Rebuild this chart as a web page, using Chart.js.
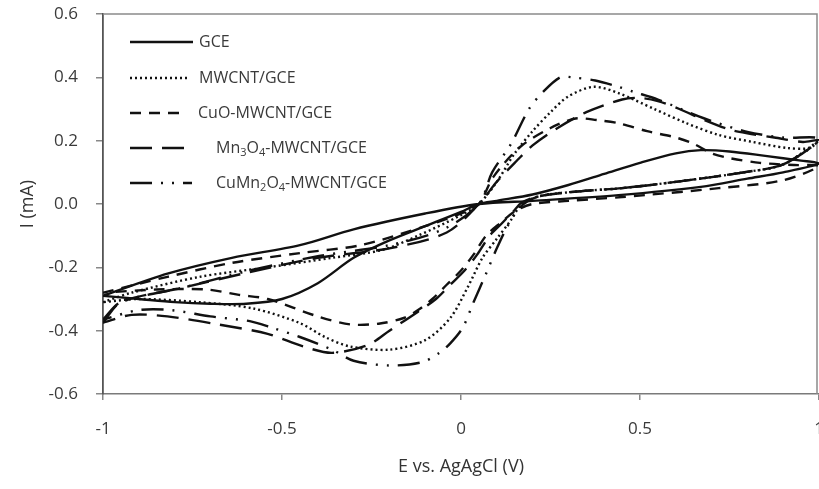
<!DOCTYPE html>
<html>
<head>
<meta charset="utf-8">
<script src="https://cdn.jsdelivr.net/npm/chart.js@4.4.1/dist/chart.umd.min.js"></script>
<style>
  html, body { margin: 0; padding: 0; background: #fff; overflow: hidden; }
  #wrap { position: relative; width: 840px; height: 489px; }
</style>
</head>
<body>
<div id="wrap"><canvas id="c"></canvas></div>
<script>
// ---- data ----
const seriesLabels = ['GCE', 'MWCNT/GCE', 'CuO-MWCNT/GCE', 'Mn₃O₄-MWCNT/GCE', 'CuMn₂O₄-MWCNT/GCE'];

const gceE = [-1, -0.9, -0.8, -0.7, -0.6, -0.5, -0.4, -0.3, -0.2, -0.1, 0, 0.05, 0.1, 0.2, 0.3, 0.4, 0.5, 0.6, 0.67, 0.75, 0.85, 0.95, 1,
              0.9, 0.8, 0.67, 0.44, 0.2, 0.05, -0.1, -0.3, -0.45, -0.64, -0.82, -1];
const gceI = [-0.29, -0.30, -0.31, -0.315, -0.315, -0.30, -0.25, -0.17, -0.115, -0.07, -0.025, 0, 0.01, 0.03, 0.06, 0.095, 0.13, 0.16, 0.17, 0.166, 0.152, 0.137, 0.128,
              0.10, 0.08, 0.054, 0.028, 0.01, 0.0, -0.03, -0.08, -0.13, -0.17, -0.22, -0.29];

const mwE = [-1, -0.92, -0.73, -0.54, -0.36, -0.22, -0.12, 0, 0.05, 0.1, 0.15, 0.2, 0.25, 0.3, 0.37, 0.44, 0.54, 0.63, 0.72, 0.815, 0.91, 0.975, 1,
             0.9, 0.79, 0.6, 0.45, 0.33, 0.22, 0.17, 0.14, 0.1, 0.06, 0.02, -0.03, -0.1, -0.2, -0.31, -0.38, -0.45, -0.58, -0.73, -0.9, -1];
const mwI = [-0.31, -0.28, -0.23, -0.20, -0.17, -0.145, -0.10, -0.035, 0.0, 0.07, 0.16, 0.23, 0.29, 0.34, 0.37, 0.35, 0.30, 0.255, 0.218, 0.196, 0.177, 0.177, 0.2,
             0.125, 0.10, 0.07, 0.05, 0.04, 0.025, 0.0, -0.05, -0.11, -0.17, -0.26, -0.36, -0.43, -0.46, -0.45, -0.42, -0.376, -0.33, -0.31, -0.30, -0.31];

const cuoE = [-1, -0.82, -0.64, -0.45, -0.28, -0.1, 0, 0.05, 0.09, 0.165, 0.25, 0.32, 0.38, 0.44, 0.52, 0.6, 0.65, 0.7, 0.75, 0.835, 0.93, 1,
              0.9, 0.72, 0.45, 0.3, 0.2, 0.155, 0.11, 0.07, 0.035, 0, -0.04, -0.08, -0.12, -0.16, -0.23, -0.31, -0.4, -0.54, -0.62, -0.71, -0.85, -1];
const cuoI = [-0.28, -0.23, -0.186, -0.155, -0.13, -0.07, -0.03, 0.0, 0.085, 0.18, 0.24, 0.27, 0.265, 0.255, 0.23, 0.21, 0.19, 0.16, 0.145, 0.13, 0.123, 0.12,
              0.075, 0.05, 0.022, 0.01, 0.0, -0.02, -0.06, -0.10, -0.16, -0.21, -0.255, -0.30, -0.335, -0.36, -0.378, -0.38, -0.355, -0.30, -0.287, -0.27, -0.27, -0.28];

const mnE = [-1, -0.95, -0.78, -0.59, -0.4, -0.2, -0.04, 0.05, 0.1, 0.15, 0.2, 0.27, 0.35, 0.45, 0.5, 0.55, 0.61, 0.68, 0.75, 0.8, 0.875, 0.955, 1,
             0.9, 0.79, 0.6, 0.45, 0.33, 0.22, 0.17, 0.145, 0.115, 0.08, 0.045, 0.01, -0.03, -0.07, -0.12, -0.2, -0.26, -0.36, -0.44, -0.54, -0.68, -0.82, -0.92, -1];
const mnI = [-0.375, -0.31, -0.265, -0.215, -0.17, -0.14, -0.09, 0.0, 0.07, 0.13, 0.185, 0.24, 0.29, 0.33, 0.335, 0.325, 0.30, 0.265, 0.235, 0.223, 0.21, 0.196, 0.2,
             0.125, 0.10, 0.07, 0.05, 0.04, 0.025, 0.005, -0.025, -0.06, -0.10, -0.16, -0.21, -0.255, -0.30, -0.34, -0.40, -0.445, -0.47, -0.45, -0.41, -0.38, -0.355, -0.35, -0.375];

const cmE = [-1, -0.95, -0.78, -0.59, -0.4, -0.2, -0.05, 0.05, 0.087, 0.14, 0.19, 0.23, 0.277, 0.31, 0.375, 0.44, 0.48, 0.55, 0.68, 0.8, 0.9, 1,
             0.9, 0.79, 0.6, 0.45, 0.33, 0.22, 0.165, 0.13, 0.1, 0.07, 0.035, 0.005, -0.03, -0.06, -0.11, -0.2, -0.3, -0.36, -0.45, -0.53, -0.59, -0.7, -0.81, -0.9, -1];
const cmI = [-0.365, -0.31, -0.265, -0.21, -0.165, -0.13, -0.08, 0.0, 0.10, 0.19, 0.30, 0.355, 0.40, 0.40, 0.39, 0.37, 0.355, 0.33, 0.27, 0.228, 0.21, 0.205,
             0.125, 0.10, 0.07, 0.05, 0.04, 0.025, -0.01, -0.07, -0.14, -0.22, -0.31, -0.39, -0.44, -0.47, -0.50, -0.51, -0.495, -0.46, -0.42, -0.39, -0.37, -0.355, -0.335, -0.335, -0.365];

const xTickValues = [-1, -0.5, 0, 0.5, 1];
const xTickLabels = ['-1', '-0.5', '0', '0.5', '1'];
const yTickValues = [-0.6, -0.4, -0.2, 0, 0.2, 0.4, 0.6];
const yTickLabels = ['-0.6', '-0.4', '-0.2', '0.0', '0.2', '0.4', '0.6'];
const xTitle = 'E vs. AgAgCl (V)';
const yTitle = 'I (mA)';

// ---- styles ----
const FONT = "'Open Sans', 'Noto Sans', sans-serif";
const styles = [
  { dash: [] },
  { dash: [2, 3] },
  { dash: [11, 8] },
  { dash: [22, 10] },
  { dash: [22, 9, 2, 9, 2, 9] }
];
const pairs = [[gceE, gceI], [mwE, mwI], [cuoE, cuoI], [mnE, mnI], [cmE, cmI]];

const datasets = pairs.map((p, i) => ({
  label: seriesLabels[i],
  data: p[0].map((e, k) => ({ x: e, y: p[1][k] })),
  showLine: true,
  borderColor: '#111',
  backgroundColor: '#111',
  borderWidth: 2.4,
  borderDash: styles[i].dash,
  pointRadius: 0,
  tension: 0.3,
  fill: false
}));

const SUB = { '₀':'0','₁':'1','₂':'2','₃':'3','₄':'4','₅':'5','₆':'6','₇':'7','₈':'8','₉':'9' };
function drawRich(ctx, text, x, y) {
  let cx = x;
  for (const ch of text) {
    if (SUB[ch]) {
      ctx.font = "11px " + FONT;
      ctx.fillText(SUB[ch], cx, y + 5);
      cx += ctx.measureText(SUB[ch]).width;
    } else {
      ctx.font = "16px " + FONT;
      ctx.fillText(ch, cx, y);
      cx += ctx.measureText(ch).width;
    }
  }
}

const legendPlugin = {
  id: 'cvLegend',
  afterDatasetsDraw(chart) {
    const ctx = chart.ctx;
    const a = chart.chartArea;
    const rowY = [42, 78, 113, 148, 183];
    const lineEnd = [193, 190, 184, 186, 192];
    const textX = [199, 199, 198, 216, 216];
    chart.data.datasets.forEach((ds, i) => {
      ctx.save();
      ctx.strokeStyle = ds.borderColor;
      ctx.lineWidth = 2.7;
      ctx.setLineDash(ds.borderDash || []);
      ctx.beginPath();
      ctx.moveTo(a.left + 27, rowY[i]);
      ctx.lineTo(lineEnd[i], rowY[i]);
      ctx.stroke();
      ctx.setLineDash([]);
      ctx.fillStyle = '#3a3a3a';
      ctx.textBaseline = 'middle';
      ctx.textAlign = 'left';
      drawRich(ctx, ds.label, textX[i], rowY[i]);
      ctx.restore();
    });
  }
};

const framePlugin = {
  id: 'frame',
  beforeDatasetsDraw(chart) {
    const ctx = chart.ctx;
    const a = chart.chartArea;
    ctx.save();
    ctx.strokeStyle = '#8a8a8a';
    ctx.lineWidth = 1.5;
    ctx.beginPath();
    ctx.moveTo(a.left, a.top);
    ctx.lineTo(a.right - 2, a.top);
    ctx.lineTo(a.right - 2, a.bottom);
    ctx.stroke();
    ctx.restore();
  }
};

new Chart(document.getElementById('c'), {
  type: 'scatter',
  data: { datasets },
  plugins: [framePlugin, legendPlugin],
  options: {
    responsive: true,
    maintainAspectRatio: false,
    animation: false,
    layout: { padding: { left: 0, top: 14, right: 21, bottom: 0 } },
    plugins: { legend: { display: false }, tooltip: { enabled: false } },
    scales: {
      x: {
        type: 'linear',
        min: -1, max: 1,
        afterBuildTicks: s => { s.ticks = xTickValues.map(v => ({ value: v })); },
        afterFit: s => { s.height = 95; s.paddingLeft = 6; s.paddingRight = 6; },
        ticks: {
          callback: (v) => xTickLabels[xTickValues.indexOf(v)],
          font: { family: FONT, size: 17 },
          color: '#3a3a3a',
          padding: 19,
          maxRotation: 0
        },
        grid: { drawOnChartArea: false, drawTicks: true, tickLength: 6, color: '#888', lineWidth: 1.5 },
        border: { display: true, color: '#7a7a7a', width: 1.5 },
        title: { display: true, text: xTitle, font: { family: FONT, size: 18 }, color: '#333', padding: { top: 0, bottom: 11 } }
      },
      y: {
        type: 'linear',
        min: -0.6, max: 0.6,
        afterBuildTicks: s => { s.ticks = yTickValues.map(v => ({ value: v })); },
        afterFit: s => { s.width = 103; s.paddingTop = 10; s.paddingBottom = 10; },
        ticks: {
          callback: (v) => yTickLabels[yTickValues.findIndex(t => Math.abs(t - v) < 1e-9)],
          font: { family: FONT, size: 17 },
          color: '#3a3a3a',
          padding: 18
        },
        grid: { drawOnChartArea: false, drawTicks: true, tickLength: 7, color: '#888', lineWidth: 1.5 },
        border: { display: true, color: '#555', width: 1.8 },
        title: { display: true, text: yTitle, font: { family: FONT, size: 18 }, color: '#333', padding: { top: 17, bottom: 0 } }
      }
    }
  }
});
</script>
</body>
</html>
